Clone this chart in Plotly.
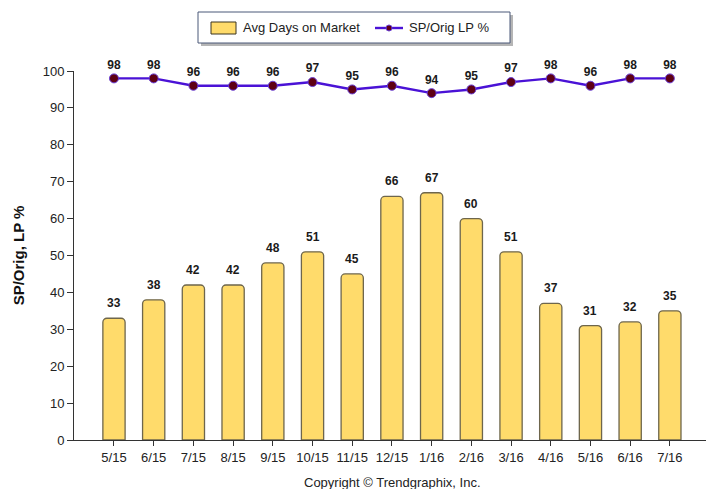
import plotly.graph_objects as go

months = ["5/15", "6/15", "7/15", "8/15", "9/15", "10/15", "11/15", "12/15",
          "1/16", "2/16", "3/16", "4/16", "5/16", "6/16", "7/16"]
avg_days = [33, 38, 42, 42, 48, 51, 45, 66, 67, 60, 51, 37, 31, 32, 35]
sp_orig_lp = [98, 98, 96, 96, 96, 97, 95, 96, 94, 95, 97, 98, 96, 98, 98]
y_ticks = [0, 10, 20, 30, 40, 50, 60, 70, 80, 90, 100]

FONT = "Liberation Sans, Arial, sans-serif"
BAR_FILL = "#FFDB6B"
BAR_EDGE = "#6E664C"
LINE_COLOR = "#4A12D6"
MARKER_COLOR = "#5E0014"

W, H = 706, 489
ML, MR, MT, MB = 74, 0, 71, 49
PW, PH = W - ML - MR, H - MT - MB


def px_x(px):
    return (px - ML) / PW


def px_y(py):
    return (H - MB - py) / PH


xs = list(range(len(months)))

fig = go.Figure()

fig.add_trace(go.Bar(
    x=xs, y=avg_days, name="Avg Days on Market",
    width=0.56,
    marker=dict(color=BAR_FILL, line=dict(color=BAR_EDGE, width=1.3),
                cornerradius=4),
))

fig.add_trace(go.Scatter(
    x=xs, y=sp_orig_lp, name="SP/Orig LP %",
    mode="lines+markers+text",
    line=dict(color=LINE_COLOR, width=2.4),
    marker=dict(color=MARKER_COLOR, size=9, line=dict(color="#6A3FD8", width=1)),
    text=[str(v) for v in sp_orig_lp], textposition="top center",
    textfont=dict(family=FONT, size=12, color="#1a1a1a", weight="bold"),
    cliponaxis=False,
))

# value labels above each bar
for x, v in zip(xs, avg_days):
    fig.add_annotation(x=x, y=v, text=f"<b>{v}</b>", showarrow=False,
                       yanchor="bottom", yshift=6,
                       font=dict(family=FONT, size=12, color="#1a1a1a"))

# legend box with drop shadow
shapes = [
    dict(type="rect", xref="paper", yref="paper",
         x0=px_x(201), x1=px_x(513), y0=px_y(46), y1=px_y(15),
         fillcolor="#B5B5B5", line=dict(width=0)),
    dict(type="rect", xref="paper", yref="paper",
         x0=px_x(198), x1=px_x(510), y0=px_y(43), y1=px_y(12),
         fillcolor="white", line=dict(color="#4A5878", width=1)),
    # bar swatch
    dict(type="rect", xref="paper", yref="paper",
         x0=px_x(211), x1=px_x(236), y0=px_y(34), y1=px_y(22),
         fillcolor=BAR_FILL, line=dict(color="#3A3520", width=1)),
    # line swatch
    dict(type="line", xref="paper", yref="paper",
         x0=px_x(375), x1=px_x(403), y0=px_y(28), y1=px_y(28),
         line=dict(color=LINE_COLOR, width=2.4)),
    dict(type="circle", xref="paper", yref="paper",
         x0=px_x(386), x1=px_x(392), y0=px_y(31), y1=px_y(25),
         fillcolor=MARKER_COLOR, line=dict(color="#6A3FD8", width=1)),
]
fig.update_layout(shapes=shapes)

fig.add_annotation(text="Avg Days on Market", xref="paper", yref="paper",
                   x=px_x(241), y=px_y(28), showarrow=False,
                   xanchor="left", yanchor="middle",
                   font=dict(family=FONT, size=13, color="#222222"))
fig.add_annotation(text="SP/Orig LP %", xref="paper", yref="paper",
                   x=px_x(407), y=px_y(28), showarrow=False,
                   xanchor="left", yanchor="middle",
                   font=dict(family=FONT, size=13, color="#222222"))

fig.add_annotation(text="Copyright \u00a9 Trendgraphix, Inc.", xref="paper", yref="paper",
                   x=px_x(392), y=px_y(482), showarrow=False,
                   xanchor="center", yanchor="middle",
                   font=dict(family=FONT, size=13, color="#222222"))

fig.update_layout(
    width=W, height=H,
    margin=dict(l=ML, r=MR, t=MT, b=MB),
    paper_bgcolor="white", plot_bgcolor="white",
    font=dict(family=FONT, size=12, color="#222222"),
    showlegend=False,
    xaxis=dict(range=[-1.007, 14.91], tickmode="array", tickvals=xs, ticktext=months,
               showline=True, linecolor="#333333", linewidth=1,
               ticks="outside", ticklen=5, tickcolor="#333333",
               showgrid=False, zeroline=False,
               tickfont=dict(family=FONT, size=13, color="#222222")),
    yaxis=dict(range=[0, 100], tickmode="array", tickvals=y_ticks,
               showline=True, linecolor="#333333", linewidth=1,
               ticks="outside", ticklen=6, tickcolor="#333333",
               showgrid=False, zeroline=False,
               tickfont=dict(family=FONT, size=13, color="#222222"),
               title=dict(text="<b>SP/Orig, LP %</b>", standoff=14,
                          font=dict(family=FONT, size=15, color="#111111"))),
    bargap=0.44,
)

fig.write_html("out.html")
